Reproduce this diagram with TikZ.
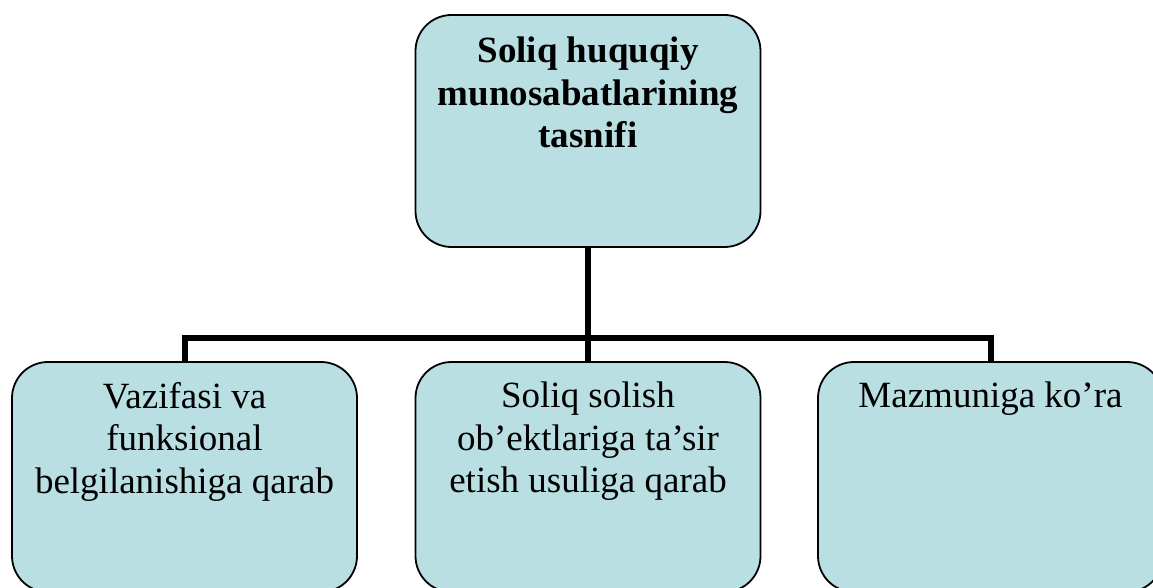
\documentclass[tikz,border=0pt]{standalone}
\usepackage{fontspec}
\setmainfont{Liberation Serif}
\definecolor{boxfill}{RGB}{185,223,227}
\begin{document}
\begin{tikzpicture}[x=1pt,y=-1pt,
  box/.style={draw=black, line width=1.8pt, fill=boxfill, rounded corners=36pt,
    minimum width=345pt, inner sep=0pt, shape=rectangle},
  label text/.style={anchor=north, inner sep=0pt, align=center,
    font=\fontsize{37}{42.5}\selectfont},
  conn/.style={draw=black, line width=6pt, line join=miter}]
  \useasboundingbox (0,0) rectangle (1153,588);
  \clip (0,0) rectangle (1153,588);

  % boxes
  \node[box, minimum height=232pt] (top) at (588,131) {};
  \node[box, minimum height=230pt] (left) at (184.5,477) {};
  \node[box, minimum height=230pt] (mid) at (588,477) {};
  \node[box, minimum height=230pt] (right) at (990.5,477) {};

  % connectors
  \coordinate (bus) at (588,338);
  \draw[conn] (top.south) -- (mid.north);
  \draw[conn] (left.north) -- (left.north |- bus) -- (right.north |- bus) -- (right.north);

  % labels
  \node[label text, font=\fontsize{37}{42.5}\selectfont\bfseries] (toptext)
    at ([yshift=-23pt]top.north) {Soliq huquqiy\\munosabatlarining\\tasnifi};
  \node[label text] (lefttext) at ([yshift=-21pt]left.north)
    {Vazifasi va\\funksional\\belgilanishiga qarab};
  \node[label text] (midtext) at ([yshift=-21pt]mid.north)
    {Soliq solish\\ob’ektlariga ta’sir\\etish usuliga qarab};
  \node[label text] (righttext) at ([yshift=-21pt]right.north)
    {Mazmuniga ko’ra};
\end{tikzpicture}
\end{document}
